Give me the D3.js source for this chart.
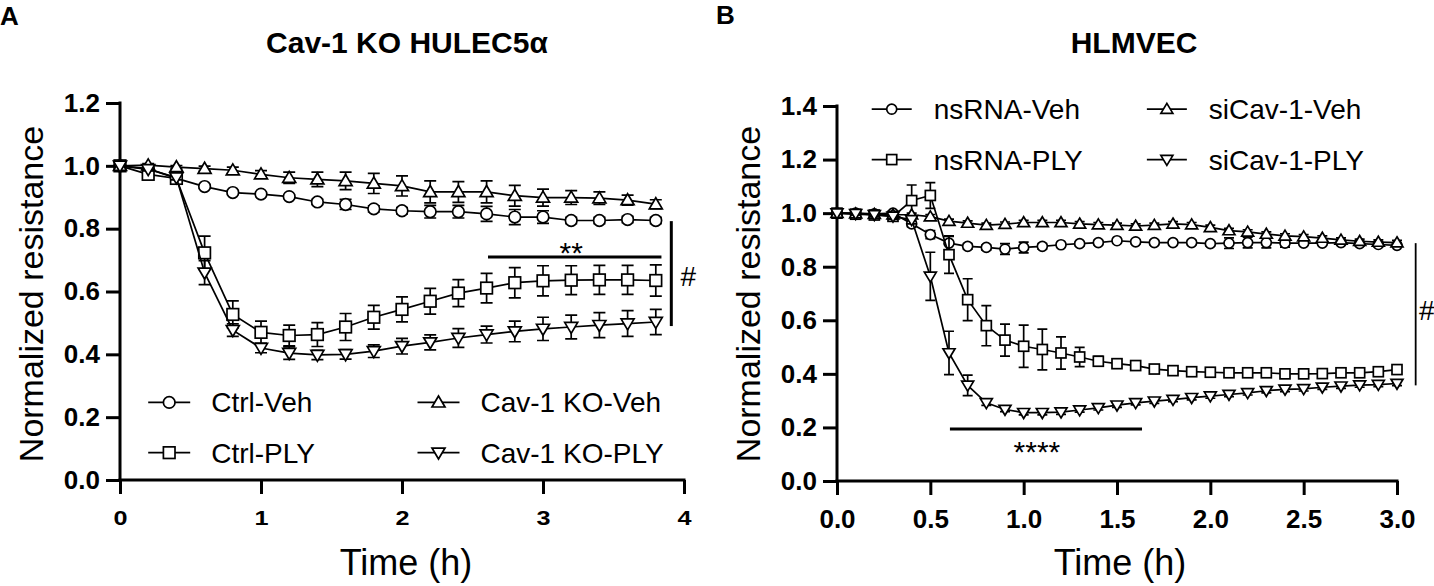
<!DOCTYPE html>
<html><head><meta charset="utf-8">
<script src="https://cdn.jsdelivr.net/npm/d3@7"></script>
<style>
body{margin:0;background:#fff}
svg{display:block}
text{font-family:"Liberation Sans",Arial,Helvetica,sans-serif;fill:#000}
</style>
</head><body>
<svg id="c" width="1434" height="586"></svg>
<script>
// ---------------- Panel A data ----------------
const timeA = [0,0.2,0.4,0.6,0.8,1.0,1.2,1.4,1.6,1.8,2.0,2.2,2.4,2.6,2.8,3.0,3.2,3.4,3.6,3.8];
const ctrlVeh     = [1.0,0.991,0.96,0.934,0.915,0.91,0.902,0.885,0.877,0.863,0.857,0.854,0.854,0.847,0.837,0.837,0.826,0.826,0.829,0.826];
const ctrlVehErr  = [0,0.005,0.005,0.006,0.006,0.006,0.006,0.008,0.016,0.01,0.01,0.02,0.02,0.024,0.024,0.02,0.01,0.01,0.01,0.01];
const ctrlPly     = [1.0,0.973,0.96,0.723,0.527,0.47,0.46,0.463,0.487,0.518,0.543,0.569,0.595,0.611,0.628,0.634,0.636,0.637,0.637,0.635];
const ctrlPlyErr  = [0,0.008,0.008,0.053,0.043,0.036,0.033,0.038,0.043,0.038,0.04,0.041,0.043,0.047,0.048,0.048,0.046,0.046,0.046,0.05];
const koVeh       = [1.0,1.002,0.996,0.991,0.986,0.973,0.962,0.957,0.952,0.944,0.936,0.917,0.917,0.917,0.905,0.899,0.899,0.897,0.891,0.878];
const koVehErr    = [0,0.005,0.005,0.008,0.01,0.012,0.018,0.023,0.028,0.032,0.032,0.035,0.033,0.035,0.033,0.027,0.022,0.02,0.016,0.014];
const koPly       = [1.0,0.989,0.963,0.66,0.477,0.42,0.404,0.398,0.4,0.41,0.426,0.438,0.452,0.463,0.473,0.481,0.487,0.493,0.498,0.503];
const koPlyErr    = [0,0.005,0.008,0.038,0.02,0.015,0.02,0.015,0.015,0.02,0.025,0.024,0.03,0.027,0.033,0.037,0.038,0.04,0.041,0.04];
const namesA = ["Ctrl-Veh","Ctrl-PLY","Cav-1 KO-Veh","Cav-1 KO-PLY"];
const xTicksA = [0,1,2,3,4];
const yTicksA = [0,0.2,0.4,0.6,0.8,1.0,1.2];

// ---------------- Panel B data ----------------
const timeB = [0,0.1,0.2,0.3,0.4,0.5,0.6,0.7,0.8,0.9,1.0,1.1,1.2,1.3,1.4,1.5,1.6,1.7,1.8,1.9,2.0,2.1,2.2,2.3,2.4,2.5,2.6,2.7,2.8,2.9,3.0];
const nsVeh     = [1.0,1.0,0.997,1.0,0.96,0.92,0.888,0.876,0.872,0.866,0.872,0.876,0.882,0.886,0.89,0.897,0.893,0.89,0.89,0.89,0.886,0.888,0.89,0.89,0.888,0.888,0.888,0.89,0.886,0.883,0.88];
const nsVehErr  = [0,0.005,0.005,0.005,0.01,0.015,0.025,0.01,0.01,0.02,0.02,0.01,0.008,0.008,0.008,0.008,0.008,0.008,0.008,0.008,0.008,0.02,0.02,0.02,0.015,0.008,0.008,0.008,0.008,0.008,0.008];
const nsPly     = [1.0,0.996,0.993,0.988,1.047,1.066,0.845,0.677,0.58,0.526,0.503,0.491,0.478,0.463,0.447,0.438,0.431,0.418,0.412,0.408,0.406,0.404,0.404,0.404,0.4,0.4,0.401,0.404,0.404,0.408,0.416];
const nsPlyErr  = [0,0.005,0.005,0.01,0.058,0.048,0.07,0.078,0.075,0.06,0.079,0.076,0.06,0.036,0.018,0.01,0.008,0.008,0.008,0.008,0.008,0.008,0.008,0.008,0.008,0.008,0.008,0.008,0.008,0.008,0.01];
const siVeh     = [1.0,0.998,0.996,0.994,0.994,0.987,0.97,0.963,0.955,0.959,0.965,0.965,0.965,0.96,0.957,0.955,0.952,0.955,0.96,0.957,0.947,0.935,0.93,0.922,0.915,0.912,0.907,0.9,0.895,0.892,0.89];
const siVehErr  = [0,0.004,0.004,0.004,0.006,0.008,0.008,0.008,0.008,0.008,0.008,0.008,0.008,0.008,0.008,0.008,0.008,0.008,0.008,0.008,0.008,0.008,0.008,0.008,0.008,0.008,0.008,0.008,0.008,0.008,0.008];
const siPly     = [1.0,0.998,0.994,0.988,0.975,0.764,0.478,0.357,0.292,0.267,0.255,0.255,0.257,0.265,0.273,0.283,0.292,0.298,0.304,0.311,0.317,0.323,0.329,0.337,0.342,0.344,0.35,0.354,0.358,0.36,0.364];
const siPlyErr  = [0,0.005,0.008,0.01,0.015,0.09,0.081,0.038,0.01,0.008,0.008,0.008,0.008,0.008,0.008,0.008,0.008,0.008,0.008,0.008,0.008,0.008,0.008,0.008,0.008,0.008,0.008,0.008,0.008,0.008,0.008];
const namesB = ["nsRNA-Veh","nsRNA-PLY","siCav-1-Veh","siCav-1-PLY"];
const xTicksB = [0,0.5,1.0,1.5,2.0,2.5,3.0];
const yTicksB = [0,0.2,0.4,0.6,0.8,1.0,1.2,1.4];

// annotation values (data units)
const sigA = {x0:2.61, x1:3.84, y:0.71, label:"**", lx:3.2, ly:0.745, hx:3.91, hy0:0.49, hy1:0.824, hlx:4.03, hly:0.648};
const sigB = {x0:0.605, x1:1.634, y:0.194, label:"****", lx:1.071, ly:0.134, hx:3.10, hy0:0.357, hy1:0.888, hlx:3.16, hly:0.64};
// legend anchors (data units)
const legA = {cols:[0.2,2.11], rows:[0.247,0.087]};
const legB = {cols:[0.186,1.66], rows:[1.388,1.2]};

const svg = d3.select("#c");
const shapes = ["circle","square","tri","tridown"];

function drawMarker(g, shape, x, y, sz){
  if(shape==="circle"){
    g.append("circle").attr("cx",x).attr("cy",y).attr("r",sz.r)
      .attr("fill","#fff").attr("stroke","#000").attr("stroke-width",1.7);
  } else if(shape==="square"){
    g.append("rect").attr("x",x-sz.s).attr("y",y-sz.s).attr("width",2*sz.s).attr("height",2*sz.s)
      .attr("fill","#fff").attr("stroke","#000").attr("stroke-width",1.7);
  } else {
    const w=sz.tw, h=sz.th, dir = shape==="tri"?1:-1;
    const p = `M${x},${y-dir*h*0.58}L${x+w},${y+dir*h*0.42}L${x-w},${y+dir*h*0.42}Z`;
    g.append("path").attr("d",p).attr("fill","#fff").attr("stroke","#000").attr("stroke-width",1.7);
  }
}

function panel(cfg){
  const x = d3.scaleLinear().domain(cfg.xdom).range(cfg.xr);
  const y = d3.scaleLinear().domain(cfg.ydom).range(cfg.yr);
  const g = svg.append("g");

  const ax = g.append("g").attr("transform",`translate(0,${cfg.yr[0]})`)
    .call(d3.axisBottom(x).tickValues(cfg.xticks).tickFormat(cfg.xfmt).tickSize(14).tickSizeOuter(0).tickPadding(cfg.xpad));
  const ay = g.append("g").attr("transform",`translate(${cfg.xr[0]},0)`)
    .call(d3.axisLeft(y).tickValues(cfg.yticks).tickFormat(d3.format(".1f")).tickSize(14).tickSizeOuter(0).tickPadding(6));
  [ax,ay].forEach(a=>{
    a.selectAll("path,line").attr("stroke","#000").attr("stroke-width",3);
    a.selectAll("text").attr("font-weight","bold").attr("fill","#000")
      .style("font-family",'"Liberation Sans",Arial,sans-serif');
  });
  ax.selectAll("text").attr("font-size",cfg.xfs).attr("transform",`scale(${cfg.xsx},1)`);
  ay.selectAll("text").attr("font-size",26);
  ax.select(".domain").attr("d",`M${cfg.xr[0]-1.5},0H${cfg.xr[1]+1.5}`);
  ay.select(".domain").attr("d",`M0,${cfg.yr[0]+1.5}V${cfg.yr[1]-1.5}`);

  cfg.series.forEach((s,i)=>{
    const sg = g.append("g");
    const pts = cfg.time.map((t,j)=>({t, v:s.v[j], e:s.e[j]}));
    sg.append("path").datum(pts)
      .attr("d", d3.line().x(d=>x(d.t)).y(d=>y(d.v)))
      .attr("fill","none").attr("stroke","#000").attr("stroke-width",1.7);
    pts.forEach(d=>{
      if(d.e>0){
        const cx=x(d.t), y0=y(d.v-d.e), y1=y(d.v+d.e), c=cfg.cap;
        sg.append("path").attr("d",`M${cx},${y0}V${y1}M${cx-c},${y0}H${cx+c}M${cx-c},${y1}H${cx+c}`)
          .attr("stroke","#000").attr("stroke-width",1.7).attr("fill","none");
      }
    });
    pts.forEach(d=> drawMarker(sg, shapes[i], x(d.t), y(d.v), cfg.msz));
  });

  const order = [[0,0],[0,1],[1,0],[1,1]];
  cfg.series.forEach((s,i)=>{
    const [c,r] = order[i];
    const lx = x(cfg.leg.cols[c]), ly = y(cfg.leg.rows[r]);
    const lg = g.append("g");
    lg.append("line").attr("x1",lx).attr("x2",lx+cfg.legLen).attr("y1",ly).attr("y2",ly)
      .attr("stroke","#000").attr("stroke-width",1.7);
    drawMarker(lg, shapes[i], lx+cfg.legLen/2, ly, cfg.msz);
    lg.append("text").attr("x",lx+cfg.legText).attr("y",ly+10).attr("font-size",28).text(s.name);
  });

  const sg = cfg.sig;
  g.append("line").attr("x1",x(sg.x0)).attr("x2",x(sg.x1)).attr("y1",y(sg.y)).attr("y2",y(sg.y))
    .attr("stroke","#000").attr("stroke-width",3);
  g.append("text").attr("x",x(sg.lx)).attr("y",y(sg.ly)+17).attr("text-anchor","middle")
    .attr("font-size",30).text(sg.label);
  g.append("line").attr("x1",x(sg.hx)).attr("x2",x(sg.hx)).attr("y1",y(sg.hy0)).attr("y2",y(sg.hy1))
    .attr("stroke","#000").attr("stroke-width",cfg.hw);
  g.append("text").attr("x",x(sg.hlx)).attr("y",y(sg.hly)+10).attr("text-anchor","middle")
    .attr("font-size",28).text("#");

  g.append("text").attr("x",cfg.letter[0]).attr("y",cfg.letter[1]).attr("font-size",26).attr("font-weight","bold").text(cfg.letterText);
  g.append("text").attr("x",cfg.title[0]).attr("y",cfg.title[1]).attr("text-anchor","middle")
    .attr("font-size",30).attr("font-weight","bold").text(cfg.titleText);
  g.append("text").attr("transform",`translate(${cfg.ylab[0]},${cfg.ylab[1]}) rotate(-90)`)
    .attr("text-anchor","middle").attr("font-size",34).text("Normalized resistance");
  g.append("text").attr("x",cfg.xlab[0]).attr("y",cfg.xlab[1]).attr("text-anchor","middle")
    .attr("font-size",36).text("Time (h)");
}

panel({
  xdom:[0,4], xr:[120,684], ydom:[0,1.2], yr:[480,103],
  xticks:xTicksA, yticks:yTicksA, xfmt:d3.format("d"), xfs:21, xsx:1.2, xpad:16,
  time:timeA,
  series:[
    {name:namesA[0], v:ctrlVeh, e:ctrlVehErr},
    {name:namesA[1], v:ctrlPly, e:ctrlPlyErr},
    {name:namesA[2], v:koVeh, e:koVehErr},
    {name:namesA[3], v:koPly, e:koPlyErr}
  ],
  msz:{r:5.8,s:5.8,tw:6.5,th:11}, cap:6,
  leg:legA, legLen:42, legText:63,
  sig:sigA, hw:3,
  letter:[0,25], letterText:"A",
  title:[407,53], titleText:"Cav-1 KO HULEC5α",
  ylab:[43,294], xlab:[406,575]
});

panel({
  xdom:[0,3], xr:[837,1397], ydom:[0,1.4], yr:[481,106],
  xticks:xTicksB, yticks:yTicksB, xfmt:d3.format(".1f"), xfs:26, xsx:1, xpad:15,
  time:timeB,
  series:[
    {name:namesB[0], v:nsVeh, e:nsVehErr},
    {name:namesB[1], v:nsPly, e:nsPlyErr},
    {name:namesB[2], v:siVeh, e:siVehErr},
    {name:namesB[3], v:siPly, e:siPlyErr}
  ],
  msz:{r:5,s:5,tw:6,th:10}, cap:5,
  leg:legB, legLen:40, legText:62,
  sig:sigB, hw:1.8,
  letter:[716,24], letterText:"B",
  title:[1134,53], titleText:"HLMVEC",
  ylab:[760,294], xlab:[1120,575]
});
</script>
</body></html>
